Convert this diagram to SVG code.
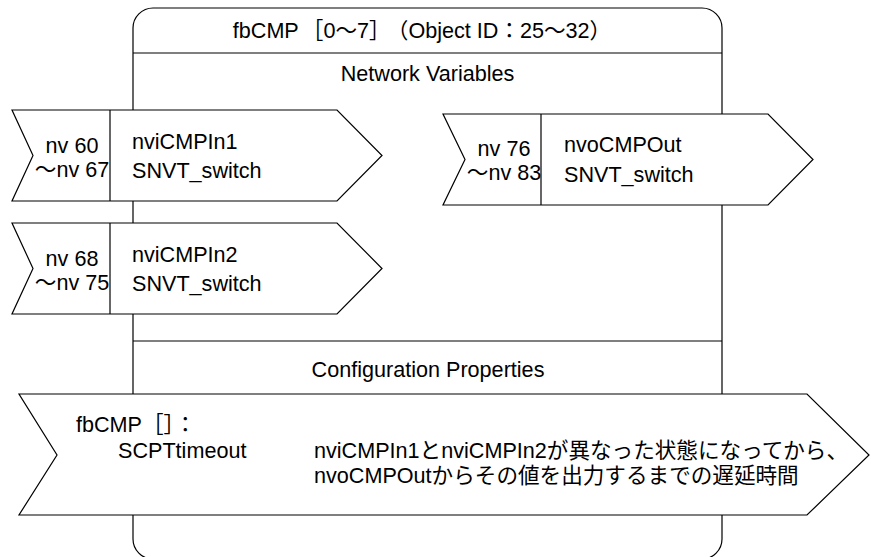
<svg xmlns="http://www.w3.org/2000/svg" width="871" height="557" viewBox="0 0 871 557">
<style>
  .ln { fill: none; stroke: #000; stroke-width: 1.2; }
  .shape { fill: #fff; stroke: #000; stroke-width: 1.2; }
  text { font-family: "Liberation Sans", "Noto Sans CJK JP", sans-serif; font-size: 21.6px; fill: #000; }
  .mid { text-anchor: middle; }
</style>
<rect width="871" height="557" fill="#fff"/>
<g id="frame">
  <rect class="ln" x="133" y="8" width="589" height="551" rx="20" ry="20"/>
  <line class="ln" x1="133" y1="53" x2="722" y2="53"/>
  <line class="ln" x1="133" y1="341" x2="722" y2="341"/>
  <text class="mid" x="422" y="38">fbCMP<tspan dx="3">［0～7］</tspan><tspan dx="7">（Object ID：25～32）</tspan></text>
  <text class="mid" x="427.5" y="81">Network Variables</text>
  <text class="mid" x="428" y="377">Configuration Properties</text>
</g>
<g id="connectors"></g>
<g id="nviCMPIn1">
  <polygon class="shape" points="12,110 337,110 382,155.5 337,201 12,201 33,155.5"/>
  <line class="ln" x1="110" y1="110" x2="110" y2="201"/>
  <text class="mid" x="72" y="153">nv 60</text>
  <text class="mid" x="72" y="177">～nv 67</text>
  <text x="132" y="149">nviCMPIn1</text>
  <text x="132" y="178">SNVT_switch</text>
</g>
<g id="nviCMPIn2">
  <polygon class="shape" points="12,223 337,223 382,268.5 337,314 12,314 33,268.5"/>
  <line class="ln" x1="110" y1="223" x2="110" y2="314"/>
  <text class="mid" x="72" y="266">nv 68</text>
  <text class="mid" x="72" y="290">～nv 75</text>
  <text x="132" y="262">nviCMPIn2</text>
  <text x="132" y="291">SNVT_switch</text>
</g>
<g id="nvoCMPOut">
  <polygon class="shape" points="443,114 768,114 813,159.5 768,205 443,205 465,159.5"/>
  <line class="ln" x1="541" y1="114" x2="541" y2="205"/>
  <text class="mid" x="504" y="156">nv 76</text>
  <text class="mid" x="504" y="180">～nv 83</text>
  <text x="564" y="152">nvoCMPOut</text>
  <text x="564" y="182">SNVT_switch</text>
</g>
<g id="SCPTtimeout">
  <polygon class="shape" points="19,394 807,394 869,455 807,515 19,515 57,455"/>
  <text x="76" y="432">fbCMP［］：</text>
  <text x="118" y="458">SCPTtimeout</text>
  <text x="314" y="458">nviCMPIn1とnviCMPIn2が異なった状態になってから、</text>
  <text x="314" y="483">nvoCMPOutからその値を出力するまでの遅延時間</text>
</g>
</svg>
